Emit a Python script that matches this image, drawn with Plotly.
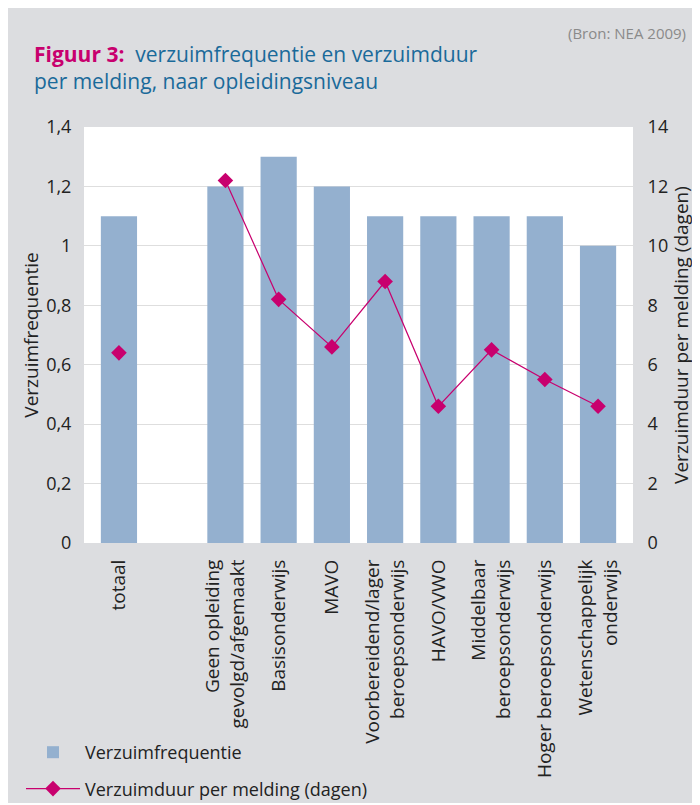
import plotly.graph_objects as go

categories = ["totaal", " ", "Geen opleiding<br>gevolgd/afgemaakt", "Basisonderwijs", "MAVO",
              "Voorbereidend/lager<br>beroepsonderwijs", "HAVO/VWO", "Middelbaar<br>beroepsonderwijs",
              "Hoger beroepsonderwijs", "Wetenschappelijk<br>onderwijs"]
frequentie = [1.1, None, 1.2, 1.3, 1.2, 1.1, 1.1, 1.1, 1.1, 1.0]
duur = [6.4, None, 12.2, 8.2, 6.6, 8.8, 4.6, 6.5, 5.5, 4.6]
left_ticks = [0, 0.2, 0.4, 0.6, 0.8, 1.0, 1.2, 1.4]
left_labels = ["0", "0,2", "0,4", "0,6", "0,8", "1", "1,2", "1,4"]
right_ticks = [0, 2, 4, 6, 8, 10, 12, 14]

FONT = "Open Sans"
BG = "#dcdde0"
W, H = 692, 795
L, R, T, B = 76, 67, 119, 260
pw, ph = W - L - R, H - T - B

def px(x):
    return (x - L) / pw

def py(y):
    return (H - B - y) / ph

fig = go.Figure()
fig.add_trace(go.Bar(x=categories, y=frequentie, name="Verzuimfrequentie", legendgroup="a",
                     marker=dict(color="#94b0cf", line=dict(width=0)), yaxis="y"))
fig.add_trace(go.Scatter(x=categories, y=duur, name="Verzuimduur per melding (dagen)", legendgroup="b",
                         mode="lines+markers", connectgaps=False, yaxis="y2",
                         line=dict(color="#c8006e", width=1.2),
                         marker=dict(symbol="diamond", size=12, color="#c8006e")))

fig.update_layout(
    width=W, height=H,
    margin=dict(l=L, r=R, t=T, b=B, autoexpand=False),
    paper_bgcolor=BG, plot_bgcolor="white",
    bargap=0.32,
    font=dict(family=FONT, color="#222", size=17),
    xaxis=dict(type="category", tickangle=-90, tickfont=dict(size=19, color="#222"),
               showgrid=False, ticks="outside", ticklen=8, tickcolor="rgba(0,0,0,0)", showline=False),
    yaxis=dict(range=[0, 1.4], tickvals=left_ticks, ticktext=left_labels,
               showgrid=True, gridcolor="#dedede", gridwidth=1, zeroline=False,
               title=dict(text="Verzuimfrequentie", font=dict(size=19, color="#222"), standoff=2),
               tickfont=dict(size=18, color="#222"), ticks="outside", ticklen=8,
               tickcolor="rgba(0,0,0,0)"),
    yaxis2=dict(range=[0, 14], tickvals=right_ticks, overlaying="y", side="right",
                showgrid=False, zeroline=False, ticks="outside", ticklen=10, tickcolor="rgba(0,0,0,0)",
                title=dict(text="Verzuimduur per melding (dagen)", font=dict(size=19, color="#222"), standoff=6),
                tickfont=dict(size=18, color="#222")),
    legend=dict(orientation="v", x=px(13), y=py(726), xanchor="left", yanchor="top",
                font=dict(size=18, color="#222"), bgcolor="rgba(0,0,0,0)",
                traceorder="grouped", tracegroupgap=10, itemwidth=54),
    showlegend=True,
)

fig.add_annotation(xref="paper", yref="paper", x=px(680), y=py(25), xanchor="right", yanchor="middle",
                   text="(Bron: NEA 2009)", showarrow=False, font=dict(size=15, color="#8a8a8a", family=FONT))
fig.add_annotation(xref="paper", yref="paper", x=px(24), y=py(60), xanchor="left", yanchor="middle",
                   align="left", showarrow=False,
                   text="<b><span style='color:#c8006e'>Figuur 3:</span></b>  verzuimfrequentie en verzuimduur<br>per melding, naar opleidingsniveau",
                   font=dict(size=21, color="#1a6a9a", family=FONT))

fig.write_html("out.html")
